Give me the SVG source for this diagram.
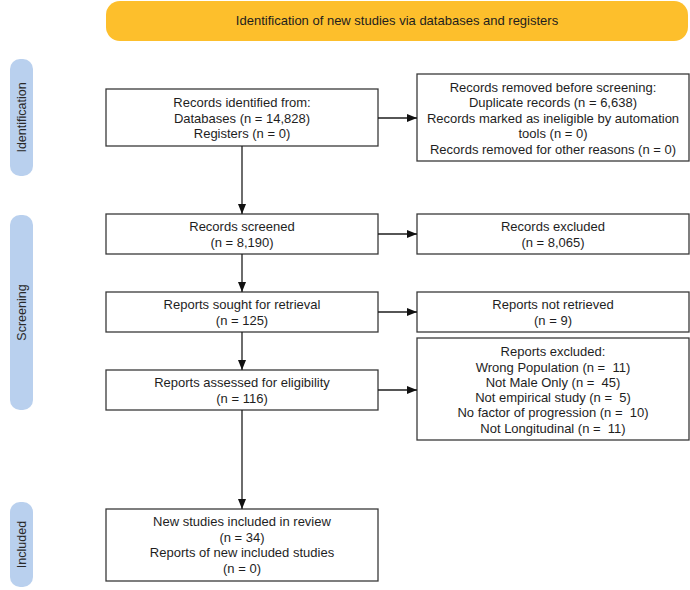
<svg xmlns="http://www.w3.org/2000/svg" width="690" height="590" viewBox="0 0 690 590">
<defs>
<style>
.box{fill:#fff;stroke:#3a3a3a;stroke-width:1.3}
.t{font-family:"Liberation Sans",Arial,sans-serif;font-size:13px;fill:#1e1e1e;text-anchor:middle;white-space:pre}
.side{fill:#b9d0ee}
.st{font-family:"Liberation Sans",Arial,sans-serif;font-size:12.5px;fill:#2a2a2a;text-anchor:middle}
.ln{stroke:#1e1e1e;stroke-width:1.3;fill:none;marker-end:url(#ah)}
</style>
<marker id="ah" viewBox="0 0 10 10" refX="10" refY="5" markerWidth="10" markerHeight="10" markerUnits="userSpaceOnUse" orient="auto">
<path d="M0,1 L10,5 L0,9 z" fill="#111"/>
</marker>
</defs>
<rect width="690" height="590" fill="#fff"/>
<g id="banner">
<rect x="106" y="1" width="582" height="40" rx="14" fill="#fdbf2c"/>
<text class="t" x="397" y="25">Identification of new studies via databases and registers</text>
</g>
<g id="side-identification">
<rect class="side" x="10" y="59" width="23" height="117" rx="10"/>
<text class="st" transform="translate(26,117.5) rotate(-90)">Identification</text>
</g>
<g id="side-screening">
<rect class="side" x="10" y="215" width="23" height="195" rx="10"/>
<text class="st" transform="translate(26,312.5) rotate(-90)">Screening</text>
</g>
<g id="side-included">
<rect class="side" x="10" y="502" width="23" height="85" rx="10"/>
<text class="st" transform="translate(26,544.5) rotate(-90)">Included</text>
</g>
<g id="records-identified">
<rect class="box" x="106" y="89" width="272" height="57"/>
<text class="t" x="242" y="107.3">Records identified from:</text>
<text class="t" x="242" y="122.8">Databases (n = 14,828)</text>
<text class="t" x="242" y="138.3">Registers (n = 0)</text>
</g>
<g id="records-removed">
<rect class="box" x="417" y="74" width="272" height="87"/>
<text class="t" x="553" y="91.8">Records removed before screening:</text>
<text class="t" x="553" y="107.3">Duplicate records (n = 6,638)</text>
<text class="t" x="553" y="122.8">Records marked as ineligible by automation</text>
<text class="t" x="553" y="138.3">tools (n = 0)</text>
<text class="t" x="553" y="153.8">Records removed for other reasons (n = 0)</text>
</g>
<g id="records-screened">
<rect class="box" x="106" y="214" width="272" height="40"/>
<text class="t" x="242" y="230.5">Records screened</text>
<text class="t" x="242" y="246.5">(n = 8,190)</text>
</g>
<g id="records-excluded">
<rect class="box" x="417" y="214" width="272" height="40"/>
<text class="t" x="553" y="230.5">Records excluded</text>
<text class="t" x="553" y="246.5">(n = 8,065)</text>
</g>
<g id="reports-sought">
<rect class="box" x="106" y="292" width="272" height="40"/>
<text class="t" x="242" y="308.5">Reports sought for retrieval</text>
<text class="t" x="242" y="324.5">(n = 125)</text>
</g>
<g id="reports-not-retrieved">
<rect class="box" x="417" y="292" width="272" height="40"/>
<text class="t" x="553" y="308.5">Reports not retrieved</text>
<text class="t" x="553" y="324.5">(n = 9)</text>
</g>
<g id="reports-assessed">
<rect class="box" x="106" y="370" width="272" height="40"/>
<text class="t" x="242" y="386.5">Reports assessed for eligibility</text>
<text class="t" x="242" y="402.5">(n = 116)</text>
</g>
<g id="reports-excluded">
<rect class="box" x="417" y="338" width="272" height="102"/>
<text class="t" x="553" y="356.2">Reports excluded:</text>
<text class="t" x="553" y="371.5" xml:space="preserve">Wrong Population (n =  11)</text>
<text class="t" x="553" y="386.8" xml:space="preserve">Not Male Only (n =  45)</text>
<text class="t" x="553" y="402.1" xml:space="preserve">Not empirical study (n =  5)</text>
<text class="t" x="553" y="417.4" xml:space="preserve">No factor of progression (n =  10)</text>
<text class="t" x="553" y="432.7" xml:space="preserve">Not Longitudinal (n =  11)</text>
</g>
<g id="new-studies">
<rect class="box" x="106" y="509" width="272" height="72"/>
<text class="t" x="242" y="526">New studies included in review</text>
<text class="t" x="242" y="541.5">(n = 34)</text>
<text class="t" x="242" y="557">Reports of new included studies</text>
<text class="t" x="242" y="572.5">(n = 0)</text>
</g>
<g id="connectors">
<line class="ln" x1="242" y1="146" x2="242" y2="214"/>
<line class="ln" x1="242" y1="254" x2="242" y2="292"/>
<line class="ln" x1="242" y1="332" x2="242" y2="370"/>
<line class="ln" x1="242" y1="410" x2="242" y2="509"/>
<line class="ln" x1="378" y1="118" x2="417" y2="118"/>
<line class="ln" x1="378" y1="234" x2="417" y2="234"/>
<line class="ln" x1="378" y1="312" x2="417" y2="312"/>
<line class="ln" x1="378" y1="390" x2="417" y2="390"/>
</g>
</svg>
